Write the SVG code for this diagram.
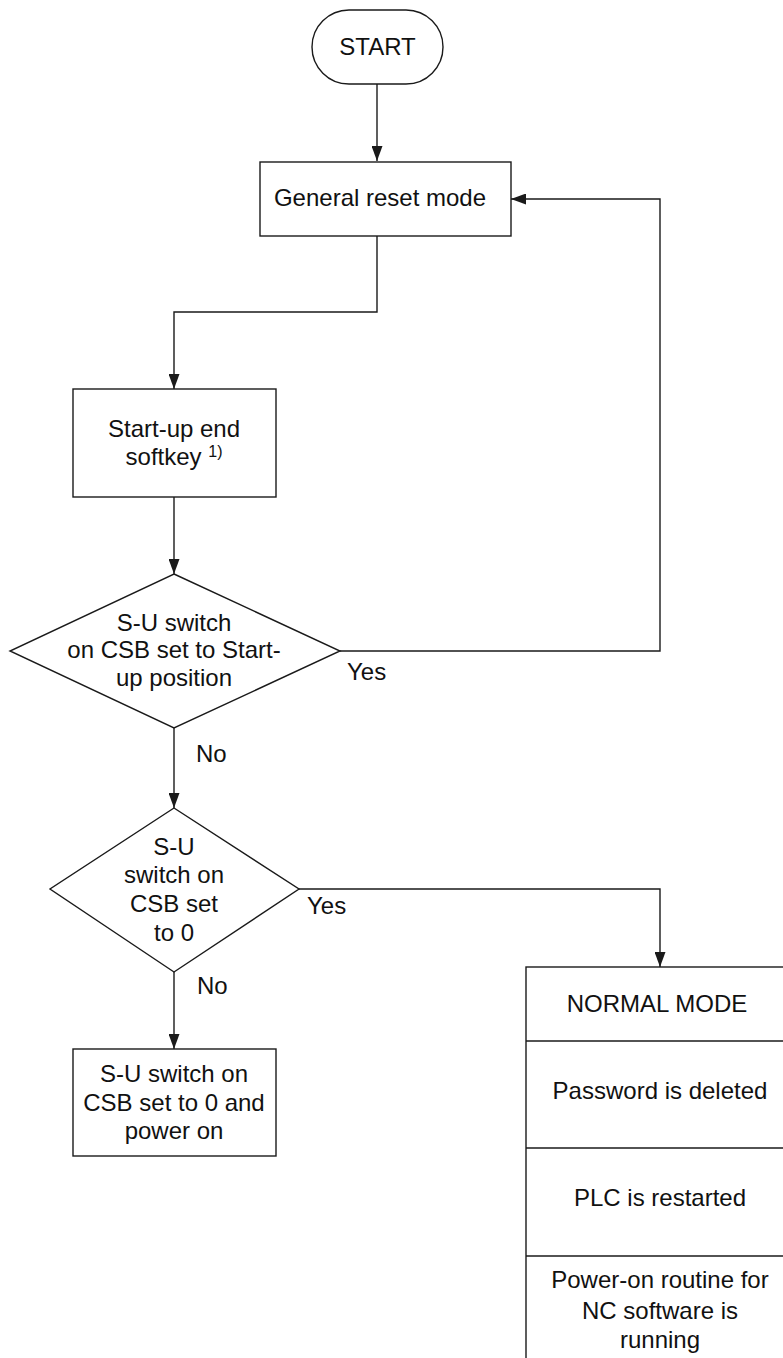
<svg xmlns="http://www.w3.org/2000/svg" width="783" height="1358" viewBox="0 0 783 1358">
  <style>
    .shape { fill: #ffffff; stroke: #1a1a1a; stroke-width: 1.4; }
    .wire { fill: none; stroke: #1a1a1a; stroke-width: 1.4; }
    .lbl { font-family: "Liberation Sans", Arial, sans-serif; font-size: 24px; fill: #111111; text-anchor: middle; }
    .tag { font-family: "Liberation Sans", Arial, sans-serif; font-size: 24px; fill: #111111; }
    .sup { font-size: 16px; }
  </style>
  <defs>
    <marker id="arrow" viewBox="0 0 15 11" refX="15" refY="5.5" markerWidth="15" markerHeight="11" markerUnits="userSpaceOnUse" orient="auto">
      <path d="M0,0 L15,5.5 L0,11 z" fill="#1a1a1a"/>
    </marker>
  </defs>
  <rect width="783" height="1358" fill="#ffffff"/>

  <!-- connectors -->
  <g id="connectors">
    <path class="wire" d="M377,84 V161" marker-end="url(#arrow)"/>
    <path class="wire" d="M377,236 V312 H174 V389" marker-end="url(#arrow)"/>
    <path class="wire" d="M174,497 V574" marker-end="url(#arrow)"/>
    <path class="wire" d="M340,651 H660 V199 H511" marker-end="url(#arrow)"/>
    <path class="wire" d="M174,728 V808" marker-end="url(#arrow)"/>
    <path class="wire" d="M299,889 H660 V967" marker-end="url(#arrow)"/>
    <path class="wire" d="M174,972 V1049" marker-end="url(#arrow)"/>
    <text class="tag" x="347" y="680">Yes</text>
    <text class="tag" x="196" y="762">No</text>
    <text class="tag" x="307" y="914">Yes</text>
    <text class="tag" x="197" y="994">No</text>
  </g>

  <!-- start terminal -->
  <g id="start">
    <rect class="shape" x="312" y="10" width="131" height="74" rx="37" ry="37"/>
    <text class="lbl" x="377.5" y="55">START</text>
  </g>

  <!-- general reset -->
  <g id="general-reset">
    <rect class="shape" x="260" y="162" width="251" height="74"/>
    <text class="lbl" x="380" y="206">General reset mode</text>
  </g>

  <!-- start-up end softkey -->
  <g id="startup-end">
    <rect class="shape" x="73" y="389" width="203" height="108"/>
    <text class="lbl" x="174" y="437">Start-up end</text>
    <text class="lbl" x="174" y="465">softkey <tspan class="sup" dy="-8">1)</tspan></text>
  </g>

  <!-- decision: start-up position -->
  <g id="decision-startup">
    <polygon class="shape" points="174,574 340,651 174,728 10,651"/>
    <text class="lbl" x="174" y="631">S-U switch</text>
    <text class="lbl" x="174" y="658">on CSB set to Start-</text>
    <text class="lbl" x="174" y="686">up position</text>
  </g>

  <!-- decision: set to 0 -->
  <g id="decision-zero">
    <polygon class="shape" points="174,808 299,889 174,972 50,889"/>
    <text class="lbl" x="174" y="855">S-U</text>
    <text class="lbl" x="174" y="883">switch on</text>
    <text class="lbl" x="174" y="912">CSB set</text>
    <text class="lbl" x="174" y="941">to 0</text>
  </g>

  <!-- set to 0 and power on -->
  <g id="power-on-box">
    <rect class="shape" x="73" y="1049" width="203" height="107"/>
    <text class="lbl" x="174" y="1082">S-U switch on</text>
    <text class="lbl" x="174" y="1111">CSB set to 0 and</text>
    <text class="lbl" x="174" y="1139">power on</text>
  </g>

  <!-- normal mode column -->
  <g id="normal-mode">
    <rect class="shape" x="526" y="967" width="280" height="420"/>
    <line class="wire" x1="526" y1="1041" x2="806" y2="1041"/>
    <line class="wire" x1="526" y1="1148" x2="806" y2="1148"/>
    <line class="wire" x1="526" y1="1256" x2="806" y2="1256"/>
    <text class="lbl" x="657" y="1012">NORMAL MODE</text>
    <text class="lbl" x="660" y="1099">Password is deleted</text>
    <text class="lbl" x="660" y="1206">PLC is restarted</text>
    <text class="lbl" x="660" y="1288">Power-on routine for</text>
    <text class="lbl" x="660" y="1319">NC software is</text>
    <text class="lbl" x="660" y="1348">running</text>
  </g>
</svg>
